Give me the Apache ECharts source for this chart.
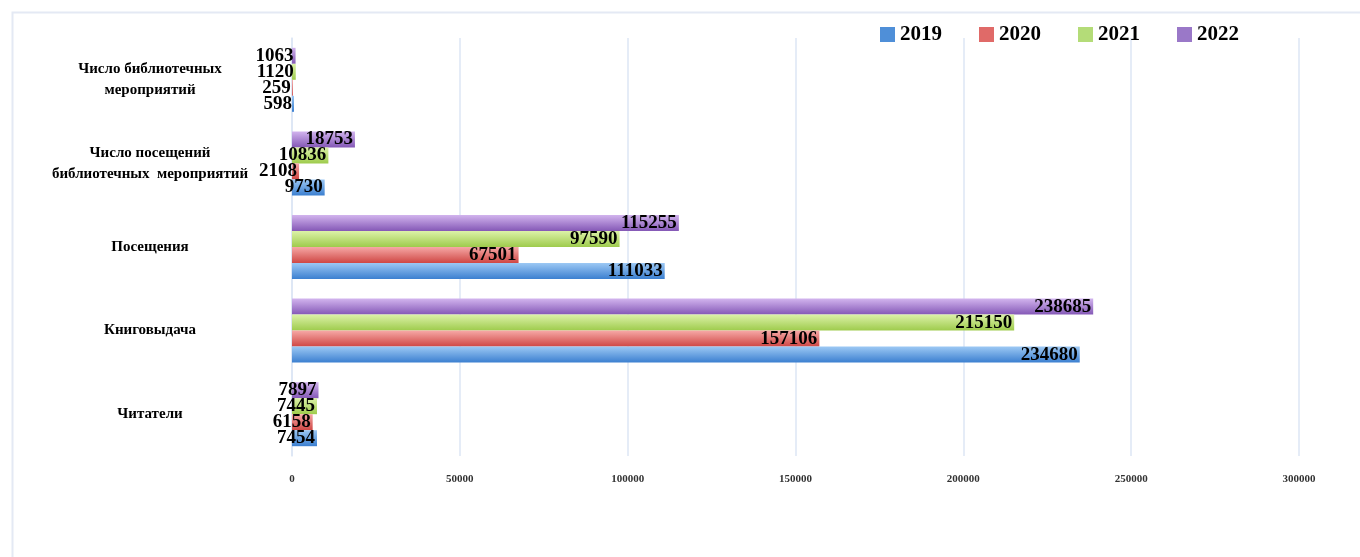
<!DOCTYPE html>
<html><head><meta charset="utf-8">
<script src="https://cdn.jsdelivr.net/npm/echarts@6/dist/echarts.min.js"></script>
<style>html,body{margin:0;padding:0;background:#fff}#c{width:1360px;height:557px}</style>
</head><body><div id="c"></div>
<script>
const categories = ['Читатели', 'Книговыдача', 'Посещения', 'Число посещений\nбиблиотечных  мероприятий', 'Число библиотечных\nмероприятий'];
const years = ['2019', '2020', '2021', '2022'];
const v2019 = [7454, 234680, 111033, 9730, 598];
const v2020 = [6158, 157106, 67501, 2108, 259];
const v2021 = [7445, 215150, 97590, 10836, 1120];
const v2022 = [7897, 238685, 115255, 18753, 1063];
const xTicks = [0, 50000, 100000, 150000, 200000, 250000, 300000];

const seriesData = [v2019, v2020, v2021, v2022];
const grads = [['#9cc8f4', '#3b7fd0'], ['#f6a8a6', '#cf4744'], ['#dcf2a8', '#9ecb4c'], ['#d2b4ee', '#8458b6']];
const legendColors = ['#4f8fd8', '#e06a68', '#b4dc78', '#9a78c8'];
const serif = '"Liberation Serif", "DejaVu Serif", serif';

const order = [3, 2, 1, 0];
const chart = echarts.init(document.getElementById('c'));
chart.setOption({
  animation: false,
  graphic: [{ type: 'polyline', shape: { points: [[12.5, 600], [12.5, 12.5], [1400, 12.5]] }, style: { stroke: '#e4e9f4', lineWidth: 2, fill: null } }],
  legend: {
    right: 116, top: 19, itemWidth: 15, itemHeight: 15, itemGap: 37, icon: 'rect',
    textStyle: { fontFamily: serif, fontWeight: 'bold', fontSize: 21, color: '#000' },
    data: years.map((y, i) => ({ name: y, itemStyle: { color: legendColors[i] } }))
  },
  grid: { left: 292, right: 61, top: 38, bottom: 101, containLabel: false },
  xAxis: {
    type: 'value', min: 0, max: 300000, interval: 50000,
    axisLine: { show: false }, axisTick: { show: false },
    splitLine: { lineStyle: { color: '#dde6f4', width: 1.5 } },
    axisLabel: { fontFamily: serif, fontWeight: 'bold', fontSize: 11, color: '#333', margin: 18, formatter: v => String(v) }
  },
  yAxis: {
    type: 'category', data: categories,
    axisLine: { lineStyle: { color: '#dde6f4', width: 1.5 } }, axisTick: { show: false },
    axisLabel: { fontFamily: serif, fontWeight: 'bold', fontSize: 15, color: '#000', align: 'center', margin: 142, lineHeight: 21 }
  },
  series: order.map(i => ({
    name: years[i], type: 'bar', data: seriesData[i], barWidth: 16, barGap: '0%', barCategoryGap: '22%',
    itemStyle: { color: new echarts.graphic.LinearGradient(0, 0, 0, 1, [{ offset: 0, color: grads[i][0] }, { offset: 1, color: grads[i][1] }]) },
    label: { show: true, position: 'insideRight', distance: 2, fontFamily: serif, fontWeight: 'bold', fontSize: 19, color: '#000' }
  }))
});
</script></body></html>
